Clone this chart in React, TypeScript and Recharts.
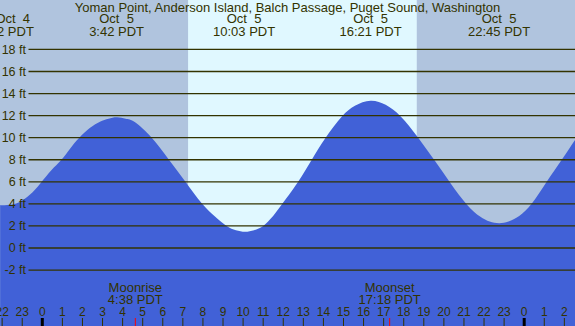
import React from 'react';
import { ComposedChart, Area, XAxis, YAxis, ReferenceArea, ReferenceLine } from 'recharts';

// Tide readings (hours since Oct 5 00:00 PDT, feet)
const hours = [-2.1, -1.97, -1.5, -1.11, -0.61, -0.1, 0.45, 0.93, 1.4, 1.84, 2.38, 2.87, 3.3, 3.72, 4.15, 4.62, 5.45, 6.27, 7.11, 7.94, 8.6, 9.18, 9.64, 10.1, 10.55, 11.0, 11.45, 11.89, 12.7, 13.42, 14.11, 14.91, 15.57, 16.35, 17.1, 17.85, 18.72, 19.55, 20.34, 21.14, 21.8, 22.28, 22.75, 23.22, 23.75, 24.37, 25.12, 25.87, 26.53];
const heights = [3.9, 3.88, 3.95, 4.2, 4.85, 5.85, 7.05, 7.95, 9.05, 10.0, 10.9, 11.45, 11.72, 11.85, 11.72, 11.4, 10.0, 8.1, 6.05, 4.05, 2.85, 2.0, 1.62, 1.48, 1.62, 2.0, 2.8, 3.85, 5.9, 8.0, 10.0, 11.9, 12.9, 13.35, 12.98, 11.92, 10.0, 7.9, 5.85, 3.95, 2.85, 2.4, 2.25, 2.4, 2.9, 4.0, 6.0, 8.0, 9.8];

const hourTicks = [-2, -1, 0, 1, 2, 3, 4, 5, 6, 7, 8, 9, 10, 11, 12, 13, 14, 15, 16, 17, 18, 19, 20, 21, 22, 23, 24, 25, 26];
const ftTicks = [-2, 0, 2, 4, 6, 8, 10, 12, 14, 16, 18];

const eventDates = ['Oct\u00a0\u00a04', 'Oct\u00a0\u00a05', 'Oct\u00a0\u00a05', 'Oct\u00a0\u00a05', 'Oct\u00a0\u00a05'];
const eventTimes = ['22:02 PDT', '3:42 PDT', '10:03 PDT', '16:21 PDT', '22:45 PDT'];
const eventHours = [-1.97, 3.7, 10.05, 16.35, 22.75];

const moonNames = ['Moonrise', 'Moonset'];
const moonTimes = ['4:38 PDT', '17:18 PDT'];
const moonHours = [4.633, 17.3];

const dayStart = 7.26;
const dayEnd = 18.65;

const title = 'Yoman Point, Anderson Island, Balch Passage, Puget Sound, Washington';

const xDomain: [number, number] = [-2.107, 26.53];
const yDomain: [number, number] = [-7.07, 22.48];

const NIGHT = '#b0c4de';
const DAY = '#e0f8ff';
const TIDE = '#4161d7';
const INK = '#333300';
const FONT = '"Liberation Sans", Arial, sans-serif';

const tideData = hours.map((h, i) => ({ h, ft: heights[i] }));

const HourTick = (props: any) => {
  const { x, payload } = props;
  const v = payload.value as number;
  const label = ((v % 24) + 24) % 24;
  const midnight = label === 0;
  return (
    <g>
      <text x={x} y={316} textAnchor="middle" fontSize={12} fontFamily={FONT} fill={INK}>{label}</text>
      <line x1={x} x2={x} y1={318} y2={326} stroke={midnight ? '#000' : INK} strokeWidth={midnight ? 3 : 1} />
    </g>
  );
};

const FtTick = (props: any) => {
  const { y, payload } = props;
  return (
    <g>
      <text x={26} y={y + 4.2} textAnchor="end" fontSize={12.5} fontFamily={FONT} fill={INK}>{`${payload.value} ft`}</text>
      <line x1={28.5} x2={575} y1={y} y2={y} stroke={INK} strokeWidth={1.3} />
    </g>
  );
};

const EventLabel = (props: any) => {
  const { viewBox, date, time, dateDx } = props;
  const x = viewBox ? viewBox.x : 0;
  return (
    <g>
      <text x={x + (dateDx || 0)} y={23} textAnchor="middle" fontSize={13} fontFamily={FONT} fill={INK}>{date}</text>
      <text x={x} y={36} textAnchor="middle" fontSize={13} fontFamily={FONT} fill={INK}>{time}</text>
    </g>
  );
};

const MoonLabel = (props: any) => {
  const { viewBox, name, time } = props;
  const x = viewBox ? viewBox.x : 0;
  return (
    <g>
      <text x={x} y={292} textAnchor="middle" fontSize={13} fontFamily={FONT} fill={INK}>{name}</text>
      <text x={x} y={304} textAnchor="middle" fontSize={13} fontFamily={FONT} fill={INK}>{time}</text>
      <line x1={x} x2={x} y1={318} y2={326} stroke="#ff0000" strokeWidth={1} />
    </g>
  );
};

export default function App() {
  return (
    <div style={{ position: 'fixed', left: 0, top: 0, width: 575, height: 326, background: NIGHT }}>
      <ComposedChart width={575} height={326} data={tideData} margin={{ top: 0, right: 0, bottom: 0, left: 0 }}>
        <ReferenceArea x1={dayStart} x2={dayEnd} y1={yDomain[0]} y2={yDomain[1]} fill={DAY} fillOpacity={1} stroke="none" ifOverflow="hidden" zIndex={-200} />
        <XAxis
          type="number"
          dataKey="h"
          domain={xDomain}
          allowDataOverflow
          ticks={hourTicks}
          interval={0}
          mirror
          axisLine={false}
          tickLine={false}
          tickSize={0}
          tickMargin={0}
          tick={<HourTick />}
        />
        <YAxis
          type="number"
          domain={yDomain}
          allowDataOverflow
          ticks={ftTicks}
          interval={0}
          mirror
          axisLine={false}
          tickLine={false}
          tickSize={0}
          tick={<FtTick />}
        />
        <Area
          type="natural"
          dataKey="ft"
          fill={TIDE}
          fillOpacity={1}
          stroke="none"
          baseValue={yDomain[0]}
          isAnimationActive={false}
          dot={false}
          activeDot={false}
        />
        {eventHours.map((h, i) => (
          <ReferenceLine key={`e${i}`} x={h} stroke="none" ifOverflow="visible"
            label={<EventLabel date={eventDates[i]} time={eventTimes[i]} dateDx={i === 0 ? 10 : 0} />} />
        ))}
        {moonHours.map((h, i) => (
          <ReferenceLine key={`m${i}`} x={h} stroke="none" ifOverflow="visible"
            label={<MoonLabel name={moonNames[i]} time={moonTimes[i]} />} />
        ))}
        <text x={287.5} y={12} textAnchor="middle" fontSize={13} fontFamily={FONT} fill={INK}>{title}</text>
      </ComposedChart>
    </div>
  );
}
